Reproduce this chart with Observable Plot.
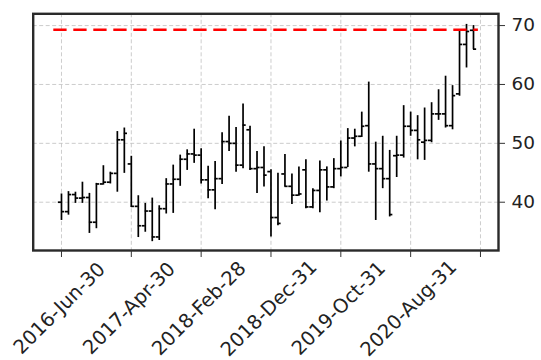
<!DOCTYPE html>
<html><head><meta charset="utf-8">
<script src="https://cdn.jsdelivr.net/npm/d3@7"></script>
<script src="https://cdn.jsdelivr.net/npm/@observablehq/plot@0.6"></script>
<style>html,body{margin:0;padding:0;background:#fff;} #chart svg{display:block;}</style>
</head><body><div id="chart"></div>
<script>
// Monthly OHLC bars, 2016-Jun .. 2021-May (index 0..59)
const opens  = [40.0,38.4,41.3,40.7,40.8,36.6,43.1,43.4,44.9,50.6, 46.5,39.3,36.0,38.5,34.1,38.9,43.1,43.9,47.3,48.2, 48.0,43.8,42.1,44.0,50.3,50.0,46.3,52.3,45.7,45.9, 45.2,37.4,44.8,42.7,41.2,45.5,39.2,42.0,45.5,42.6, 45.7,45.9,50.9,51.2,53.0,46.5,45.7,44.0,47.9,48.0, 52.9,52.2,50.2,50.5,55.0,55.0,53.0,58.4,66.8,69.2];
const highs  = [41.4,41.8,41.7,43.4,41.5,43.2,46.2,45.1,52.0,52.6, 47.8,41.1,39.8,40.7,39.4,44.0,46.3,48.0,48.9,52.4, 49.1,46.1,46.9,51.8,54.6,52.7,56.7,52.9,48.6,49.4, 45.5,44.9,48.1,44.8,46.0,47.2,42.3,47.0,46.0,47.4, 50.4,52.5,52.4,55.3,60.4,50.2,51.2,48.8,51.2,56.4, 55.3,54.7,56.0,56.9,59.1,61.4,59.8,69.0,70.2,70.0];
const lows   = [36.9,37.8,39.8,39.8,34.7,35.5,42.9,43.1,41.7,44.9, 39.1,34.0,34.9,33.3,33.5,38.0,38.1,42.7,45.4,46.6, 43.1,40.6,38.7,43.0,48.6,45.1,45.7,45.4,41.5,42.6, 34.1,36.0,42.6,39.6,41.0,38.9,38.9,38.2,40.2,42.3, 44.3,45.9,49.4,51.0,45.1,36.9,42.3,37.5,44.2,47.5, 51.2,47.2,47.1,50.1,53.9,52.6,52.3,58.0,62.8,65.9];
const closes = [38.4,41.3,40.7,40.8,36.6,43.1,43.4,44.9,50.6,51.7, 39.3,36.0,38.5,34.1,38.9,43.1,43.9,47.3,48.2,48.0, 43.8,42.1,44.0,50.3,50.0,46.3,53.1,45.7,45.9,44.6, 37.4,36.4,42.7,41.2,41.4,39.2,42.0,45.5,42.6,45.7, 45.9,50.9,51.2,52.9,46.5,45.7,44.0,37.9,48.0,52.9, 52.2,50.6,50.5,55.0,55.0,53.0,58.1,66.8,69.0,66.0];

const tickIndex  = [0, 10, 20, 30, 40, 50, 60];
const tickLabels = ["2016-Jun-30","2017-Apr-30","2018-Feb-28","2018-Dec-31","2019-Oct-31","2020-Aug-31",""];
const yTicks = [40, 50, 60, 70];
const refLevel = 69.3;
const refSpan = [-1.1, 59.7];

const bars = opens.map((o, i) => ({i, open: o, high: highs[i], low: lows[i], close: closes[i]}));
const labels = tickIndex.map((t, k) => ({t, label: tickLabels[k]})).filter(d => d.label);
const refLine = [{y: refLevel, x1: refSpan[0], x2: refSpan[1]}];
const half = 0.45;

const chart = Plot.plot({
  width: 541, height: 360,
  marginLeft: 32.7, marginRight: 43, marginTop: 13.3, marginBottom: 110,
  style: {fontFamily: "DejaVu Sans", fontSize: "18px", color: "#222", background: "#fff"},
  x: {type: "linear", domain: [-4.05, 62.58]},
  y: {domain: [31.8, 72.0]},
  marks: [
    Plot.gridX(tickIndex, {stroke: "#b8b8b8", strokeOpacity: 0.9, strokeDasharray: "4,2.5", strokeWidth: 0.8}),
    Plot.gridY(yTicks, {stroke: "#b8b8b8", strokeOpacity: 0.9, strokeDasharray: "4,2.5", strokeWidth: 0.8}),
    Plot.ruleX(bars, {x: "i", y1: "low", y2: "high", stroke: "#000", strokeWidth: 1.7}),
    Plot.ruleY(bars, {y: "open", x1: d => d.i - half, x2: "i", stroke: "#000", strokeWidth: 1.7}),
    Plot.ruleY(bars, {y: "close", x1: "i", x2: d => d.i + half, stroke: "#000", strokeWidth: 1.7}),
    Plot.ruleY(refLine, {y: "y", x1: "x1", x2: "x2", stroke: "#ff0000", strokeWidth: 2.5, strokeDasharray: "13.3,6.7"}),
    Plot.frame({stroke: "#2a2a2a", strokeWidth: 2.4}),
    Plot.axisX(tickIndex, {tickSize: 7, tickFormat: () => "", stroke: "#333", label: null}),
    Plot.axisY(yTicks, {anchor: "right", tickSize: 6, tickPadding: 7, fontSize: 18.5, stroke: "#333", fill: "#222", label: null}),
    Plot.text(labels, {x: "t", text: "label", frameAnchor: "bottom", dy: 58, dx: -2, rotate: -45,
      textAnchor: "middle", lineAnchor: "middle", fontSize: 19.5, fill: "#222"})
  ]
});
document.getElementById("chart").appendChild(chart);
</script>
</body></html>
